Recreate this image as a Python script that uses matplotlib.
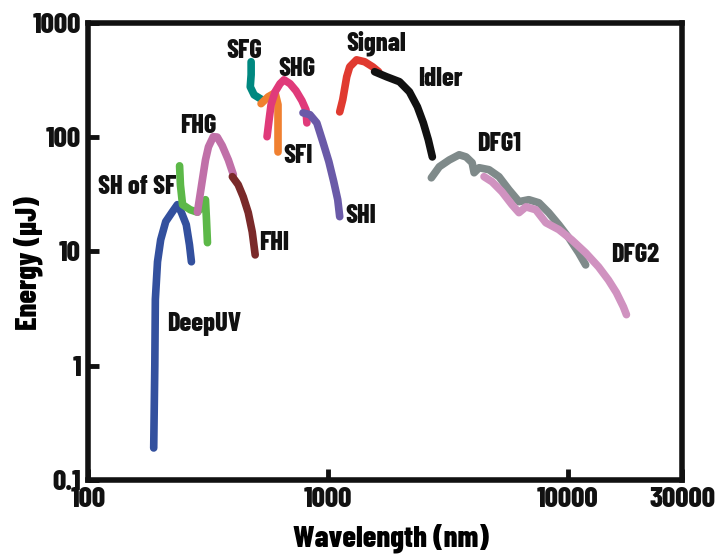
import matplotlib.pyplot as plt

# wavelength (nm) / pulse energy (uJ) for each tuning range
deepuv_wl = [188, 190, 191, 195, 201, 211, 225, 236, 245, 257, 265, 270]
deepuv_e = [0.19, 1.0, 3.8, 8.1, 12.6, 18.2, 22.2, 25.6, 22.0, 17.1, 11.4, 8.1]

shsf_wl = [241, 243, 248, 267, 286, 303, 309, 312, 315]
shsf_e = [56, 38, 25.6, 23.1, 22.0, 25.6, 28.3, 18.9, 11.9]

fhg_wl = [286, 300, 309, 318, 333, 346, 363, 385, 404]
fhg_e = [22, 42.3, 63, 82, 100.7, 100, 84, 63, 46.8]

fhi_wl = [400, 423, 444, 466, 484, 498]
fhi_e = [45, 38.3, 30, 21.8, 14.8, 9.3]

sfg_wl = [479, 479, 475, 493, 532]
sfg_e = [456, 351, 275, 234, 212]

sfi_wl = [527, 564, 603, 620, 620, 620]
sfi_e = [196, 225, 244, 192, 116, 74]

shg_wl = [558, 569, 580, 603, 632, 657, 696, 737, 780, 811, 818]
shg_e = [100.7, 141, 192, 249, 293, 317, 293, 254, 208, 173, 133]

shi_wl = [788, 842, 900, 953, 1010, 1059, 1100, 1121]
shi_e = [163, 157, 133, 91, 61, 40.6, 28.3, 20.1]

signal_wl = [1121, 1154, 1199, 1234, 1318, 1424, 1538, 1629]
signal_e = [166, 212, 337, 412, 474, 456, 412, 373]

idler_wl = [1567, 1758, 1990, 2189, 2363, 2502, 2624, 2728]
idler_e = [373, 337, 305, 249, 184, 133, 94.7, 67]

dfg1_wl = [2702, 2917, 3209, 3530, 3773, 3997, 4074, 4274, 4699, 5171, 5689,
           6266, 6887, 7586, 8337, 9183, 10093, 11117, 11885]
dfg1_e = [44, 55, 63, 70, 67, 59.6, 48.7, 53.9, 51.8, 45, 34.6,
          27.2, 28.3, 26.6, 21.8, 17.1, 13.2, 9.7, 7.6]

dfg2_wl = [4480, 4839, 5322, 5857, 6266, 6698, 7364, 8110, 9183, 10396,
           11885, 13459, 14797, 15964, 17067, 17579]
dfg2_e = [45, 40.6, 33.2, 25.6, 21.8, 24.5, 23.1, 17.8, 15.5, 12.6,
          9.7, 7.3, 5.6, 4.35, 3.27, 2.79]

series = [
    (deepuv_wl, deepuv_e, '#33509e'),
    (shsf_wl, shsf_e, '#5cb848'),
    (fhg_wl, fhg_e, '#c070a8'),
    (fhi_wl, fhi_e, '#7a2a2a'),
    (sfg_wl, sfg_e, '#008880'),
    (sfi_wl, sfi_e, '#f08030'),
    (shg_wl, shg_e, '#e03a7a'),
    (shi_wl, shi_e, '#6a5aa8'),
    (signal_wl, signal_e, '#e03a30'),
    (idler_wl, idler_e, '#111111'),
    (dfg1_wl, dfg1_e, '#7f8a8a'),
    (dfg2_wl, dfg2_e, '#d092c0'),
]

# curve names and where they sit (nm, uJ)
names = ['DeepUV', 'SH of SF', 'FHG', 'FHI', 'SFG', 'SFI', 'SHG', 'SHI',
         'Signal', 'Idler', 'DFG1', 'DFG2']
name_pos = [(306, 2.33), (160, 36.7), (289, 126), (597, 11.9), (448, 569),
            (751, 68.6), (743, 396), (1371, 20.5), (1597, 668), (2943, 324),
            (5171, 87.4), (19150, 9.33)]

xticks = [100, 1000, 10000, 30000]
xtick_labels = ['100', '1000', '10000', '30000']
yticks = [0.1, 1, 10, 100, 1000]
ytick_labels = ['0.1', '1', '10', '100', '1000']

plt.rcParams['font.family'] = ['Barlow Condensed', 'DejaVu Sans']
plt.rcParams['font.weight'] = 800

fig = plt.figure(figsize=(7.15, 5.56), dpi=100)
ax = fig.add_axes([0.123, 0.137, 0.831, 0.822])

for wl, e, c in series:
    ax.plot(wl, e, color=c, lw=5.5, solid_capstyle='round',
            solid_joinstyle='round')

for n, (x, y) in zip(names, name_pos):
    ax.text(x, y, n, ha='center', va='center', fontsize=19,
            fontweight=800, color='#111111', zorder=5)

ax.set_xscale('log')
ax.set_yscale('log')
ax.set_xlim(100, 30000)
ax.set_ylim(0.1, 1000)
ax.set_xticks(xticks)
ax.set_xticklabels(xtick_labels)
ax.set_yticks(yticks)
ax.set_yticklabels(ytick_labels)
ax.minorticks_off()
ax.tick_params(direction='in', length=8, width=3.5, labelsize=21,
               colors='#111111', pad=5)
for s in ax.spines.values():
    s.set_linewidth(4)
    s.set_color('#111111')

ax.set_xlabel('Wavelength (nm)', fontsize=22, fontweight=800)
ax.set_ylabel('Energy (\u00b5J)', fontsize=22, fontweight=800)
ax.xaxis.set_label_coords(0.51, -0.095)
ax.yaxis.set_label_coords(-0.076, 0.475)

fig.savefig('out.png', dpi=100)
